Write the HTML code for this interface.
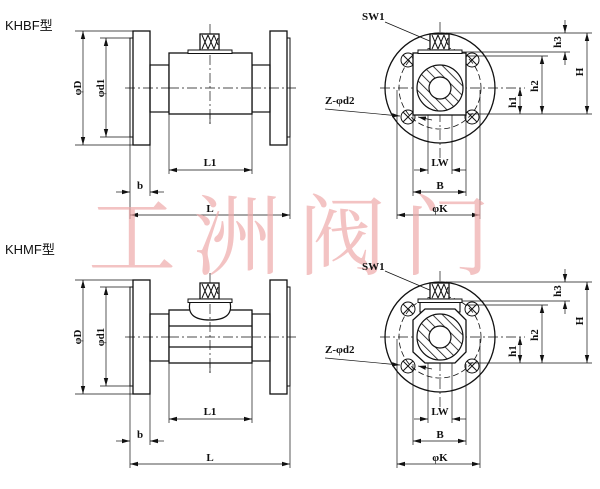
<!DOCTYPE html>
<html><head><meta charset="utf-8"><style>
html,body{margin:0;padding:0;background:#fff;}
svg{display:block;}
.t{font-family:"Liberation Serif",serif;font-weight:bold;font-size:11px;fill:#111;}
.wm{font-family:"Liberation Serif","Noto Serif CJK SC",serif;font-size:88px;fill:#eeaaaa;opacity:0.7;}
</style></head><body>
<svg width="600" height="489" viewBox="0 0 600 489" xmlns="http://www.w3.org/2000/svg">
<defs>
<marker id="a" markerWidth="8" markerHeight="6" refX="8" refY="3" orient="auto-start-reverse" markerUnits="userSpaceOnUse"><path d="M0,0.8 L8,3 L0,5.2Z" fill="#111"/></marker>
<pattern id="h" width="7" height="7" patternUnits="userSpaceOnUse" patternTransform="rotate(-45)"><rect width="7" height="7" fill="#fff"/><line x1="0" y1="0" x2="0" y2="7" stroke="#111" stroke-width="1.6"/></pattern>
<g id="stem">
<rect x="200" y="34" width="19" height="16" fill="#fff" stroke="#111" stroke-width="1.3"/>
<path d="M202,35 L208,49 M208,35 L202,49 M208,35 L214,49 M214,35 L208,49 M214,35 L218,45 M218,38 L214,49" stroke="#111" stroke-width="1"/>
<rect x="188" y="50" width="44" height="3.5" fill="#fff" stroke="#111" stroke-width="1"/>
</g>
<g id="side" fill="none" stroke="#111">
<rect x="130" y="38" width="3" height="99" stroke-width="1"/>
<rect x="133" y="31" width="17" height="114" stroke-width="1.3" fill="#fff"/>
<rect x="287" y="38" width="3" height="99" stroke-width="1"/>
<rect x="270" y="31" width="17" height="114" stroke-width="1.3" fill="#fff"/>
<rect x="150" y="65" width="19" height="47" stroke-width="1.2"/>
<rect x="252" y="65" width="18" height="47" stroke-width="1.2"/>
<g stroke-width="0.7">
<line x1="75" y1="31" x2="133" y2="31"/><line x1="75" y1="145" x2="133" y2="145"/>
<line x1="100" y1="38" x2="130" y2="38"/><line x1="100" y1="137" x2="130" y2="137"/>
<line x1="83" y1="31" x2="83" y2="145" marker-start="url(#a)" marker-end="url(#a)"/>
<line x1="106" y1="38" x2="106" y2="137" marker-start="url(#a)" marker-end="url(#a)"/>
<line x1="169" y1="114" x2="169" y2="174"/><line x1="252" y1="114" x2="252" y2="174"/>
<line x1="169" y1="170" x2="252" y2="170" marker-start="url(#a)" marker-end="url(#a)"/>
<line x1="130" y1="137" x2="130" y2="219"/><line x1="150" y1="145" x2="150" y2="196"/>
<line x1="290" y1="137" x2="290" y2="219"/>
<line x1="116" y1="192" x2="130" y2="192" marker-end="url(#a)"/>
<line x1="164" y1="192" x2="150" y2="192" marker-end="url(#a)"/>
<line x1="130" y1="215" x2="290" y2="215" marker-start="url(#a)" marker-end="url(#a)"/>
<line x1="125" y1="88" x2="296" y2="88" stroke-dasharray="10,3,2,3"/>
<line x1="210" y1="24" x2="210" y2="125" stroke-dasharray="10,3,2,3"/>
</g>
</g>
<g id="front" fill="none" stroke="#111">
<circle cx="440" cy="88" r="55" stroke-width="1.3"/>
<circle cx="440" cy="88" r="41" stroke-width="0.8" stroke-dasharray="6,3"/>
<g stroke-width="1">
<circle cx="408" cy="60" r="7"/><path d="M403,55 L413,65 M413,55 L403,65"/>
<circle cx="472" cy="60" r="7"/><path d="M467,55 L477,65 M477,55 L467,65"/>
<circle cx="408" cy="117" r="7"/><path d="M403,112 L413,122 M413,112 L403,122"/>
<circle cx="472" cy="117" r="7"/><path d="M467,112 L477,122 M477,112 L467,122"/>
</g>
<g stroke-width="0.7">
<line x1="380" y1="88" x2="525" y2="88" stroke-dasharray="10,3,2,3"/>
<line x1="440" y1="22" x2="440" y2="160" stroke-dasharray="10,3,2,3"/>
<line x1="446" y1="33" x2="592" y2="33"/><line x1="462" y1="52" x2="570" y2="52"/>
<line x1="466" y1="56" x2="548" y2="56"/><line x1="468" y1="114" x2="592" y2="114"/>
<line x1="565" y1="20" x2="565" y2="33" marker-end="url(#a)"/>
<line x1="565" y1="65" x2="565" y2="52" marker-end="url(#a)"/>
<line x1="587" y1="33" x2="587" y2="114" marker-start="url(#a)" marker-end="url(#a)"/>
<line x1="542" y1="56" x2="542" y2="114" marker-start="url(#a)" marker-end="url(#a)"/>
<line x1="520" y1="88" x2="520" y2="114" marker-start="url(#a)" marker-end="url(#a)"/>
<line x1="428" y1="110" x2="428" y2="174"/><line x1="452" y1="110" x2="452" y2="174"/>
<line x1="413" y1="115" x2="413" y2="196"/><line x1="466" y1="115" x2="466" y2="196"/>
<line x1="397" y1="90" x2="397" y2="219"/><line x1="480" y1="90" x2="480" y2="219"/>
<line x1="414" y1="170" x2="428" y2="170" marker-end="url(#a)"/>
<line x1="466" y1="170" x2="452" y2="170" marker-end="url(#a)"/>
<line x1="413" y1="192" x2="466" y2="192" marker-start="url(#a)" marker-end="url(#a)"/>
<line x1="397" y1="215" x2="480" y2="215" marker-start="url(#a)" marker-end="url(#a)"/>
<line x1="385" y1="22" x2="432" y2="42"/>
<line x1="325" y1="109" x2="400" y2="116" marker-end="url(#a)"/>
<line x1="432" y1="120" x2="418" y2="117" marker-end="url(#a)"/>
</g>
</g>
</defs>

<use href="#side"/>
<rect x="169" y="53" width="83" height="61" fill="#fff" stroke="#111" stroke-width="1.3"/>
<line x1="169" y1="88" x2="252" y2="88" stroke="#111" stroke-width="0.7" stroke-dasharray="10,3,2,3"/>
<line x1="210" y1="55" x2="210" y2="125" stroke="#111" stroke-width="0.7" stroke-dasharray="10,3,2,3"/>
<use href="#stem"/>

<g transform="translate(0,249)">
<use href="#side"/>
<rect x="169" y="61" width="83" height="53" fill="#fff" stroke="#111" stroke-width="1.3"/>
<line x1="169" y1="77" x2="252" y2="77" stroke="#111" stroke-width="1.2"/>
<line x1="169" y1="98" x2="252" y2="98" stroke="#111" stroke-width="1.2"/>
<path d="M190,53 Q186,71 210,71 Q234,71 230,53Z" fill="#fff" stroke="#111" stroke-width="1.2"/>
<line x1="169" y1="88" x2="252" y2="88" stroke="#111" stroke-width="0.7" stroke-dasharray="10,3,2,3"/>
<line x1="210" y1="55" x2="210" y2="125" stroke="#111" stroke-width="0.7" stroke-dasharray="10,3,2,3"/>
<use href="#stem"/>
</g>

<use href="#front"/>
<rect x="413" y="53" width="53" height="62" fill="#fff" stroke="#111" stroke-width="1.3"/>
<circle cx="440" cy="88" r="23" fill="url(#h)" stroke="#111" stroke-width="1.2"/>
<circle cx="440" cy="88" r="11" fill="#fff" stroke="#111" stroke-width="1.2"/>
<g transform="translate(230,0)"><use href="#stem"/></g>

<g transform="translate(0,249)">
<use href="#front"/>
<rect x="420" y="53" width="40" height="10" fill="#fff" stroke="#111" stroke-width="1.1"/>
<path d="M425,60 L455,60 L466,71 L466,103 L455,114 L425,114 L413,103 L413,71Z" fill="#fff" stroke="#111" stroke-width="1.3"/>
<circle cx="440" cy="88" r="23" fill="url(#h)" stroke="#111" stroke-width="1.2"/>
<circle cx="440" cy="88" r="11" fill="#fff" stroke="#111" stroke-width="1.2"/>
<g transform="translate(230,0)"><use href="#stem"/></g>
</g>

<text class="wm" x="88" y="268">工</text>
<text class="wm" x="193" y="268">洲</text>
<text class="wm" x="298" y="268">阀</text>
<text class="wm" x="403" y="268">门</text>

<g font-family="Liberation Sans,'Noto Sans CJK SC',sans-serif" font-size="13" fill="#111">
<text x="5" y="30">KHBF型</text>
<text x="5" y="254">KHMF型</text>
</g>
<g class="t">
<text transform="translate(81,88) rotate(-90)" text-anchor="middle">φD</text>
<text transform="translate(104,88) rotate(-90)" text-anchor="middle">φd1</text>
<text x="210" y="166" text-anchor="middle">L1</text>
<text x="140" y="189" text-anchor="middle">b</text>
<text x="210" y="212" text-anchor="middle">L</text>
<text transform="translate(81,337) rotate(-90)" text-anchor="middle">φD</text>
<text transform="translate(104,337) rotate(-90)" text-anchor="middle">φd1</text>
<text x="210" y="415" text-anchor="middle">L1</text>
<text x="140" y="438" text-anchor="middle">b</text>
<text x="210" y="461" text-anchor="middle">L</text>

<text x="362" y="20">SW1</text>
<text x="325" y="104">Z-φd2</text>
<text x="440" y="166" text-anchor="middle">LW</text>
<text x="440" y="189" text-anchor="middle">B</text>
<text x="440" y="212" text-anchor="middle">φK</text>
<text transform="translate(561,42) rotate(-90)" text-anchor="middle">h3</text>
<text transform="translate(583,72) rotate(-90)" text-anchor="middle">H</text>
<text transform="translate(538,86) rotate(-90)" text-anchor="middle">h2</text>
<text transform="translate(516,102) rotate(-90)" text-anchor="middle">h1</text>

<text x="362" y="270">SW1</text>
<text x="325" y="353">Z-φd2</text>
<text x="440" y="415" text-anchor="middle">LW</text>
<text x="440" y="438" text-anchor="middle">B</text>
<text x="440" y="461" text-anchor="middle">φK</text>
<text transform="translate(561,291) rotate(-90)" text-anchor="middle">h3</text>
<text transform="translate(583,321) rotate(-90)" text-anchor="middle">H</text>
<text transform="translate(538,335) rotate(-90)" text-anchor="middle">h2</text>
<text transform="translate(516,351) rotate(-90)" text-anchor="middle">h1</text>
</g>
</svg>
</body></html>
